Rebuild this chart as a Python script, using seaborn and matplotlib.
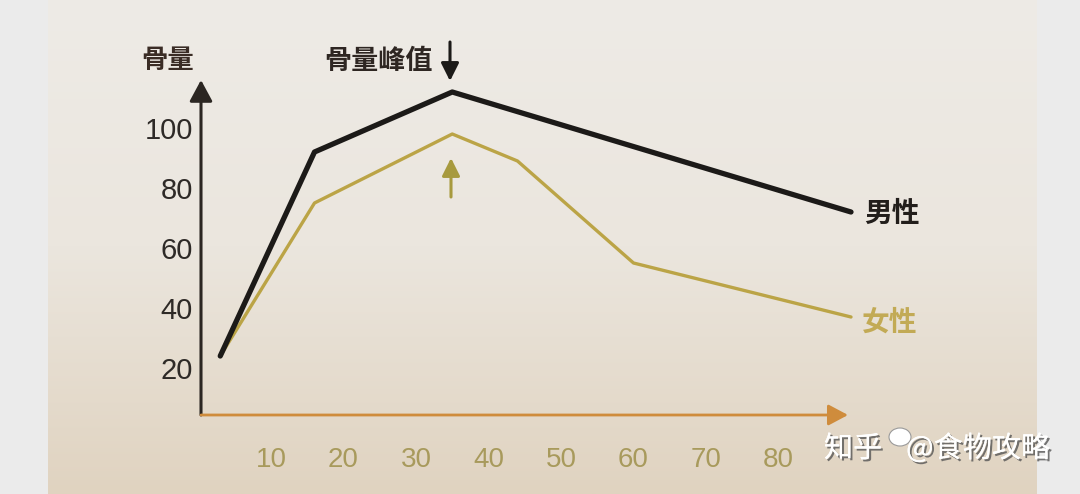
import numpy as np
import pandas as pd
import matplotlib
matplotlib.use("Agg")
import matplotlib.pyplot as plt
import matplotlib.patheffects as pe
from matplotlib.colors import LinearSegmentedColormap
from matplotlib import font_manager
import seaborn as sns

# ---- data ----
male_age = [3, 16, 35, 90]
male_bone = [24, 92, 112, 72]
female_age = [3, 16, 35, 44, 60, 90]
female_bone = [24, 75, 98, 89, 55, 37]
x_ticks = [10, 20, 30, 40, 50, 60, 70, 80]
y_ticks = [20, 40, 60, 80, 100]
y_title = "骨量"
peak_label = "骨量峰值"
male_label = "男性"
female_label = "女性"
watermark_a = "知乎"
watermark_b = "@食物攻略"

sns.set_theme(style="white")
CJK = ["Noto Sans CJK SC", "DejaVu Sans"]
plt.rcParams["font.family"] = CJK
avail = {f.name for f in font_manager.fontManager.ttflist}
NUMFONT = "Liberation Sans Narrow" if "Liberation Sans Narrow" in avail else "Liberation Sans"

W, H = 1080, 494
fig = plt.figure(figsize=(W / 100, H / 100), dpi=100, facecolor="#ebebeb")

def fx(px):
    return px / W

def fy(py):
    return 1 - py / H

# background gradient panel
bg = fig.add_axes([fx(48), 0, fx(1037) - fx(48), 1], zorder=0)
cmap = LinearSegmentedColormap.from_list("bg", ["#eeebe6", "#ebe6de", "#e0d3c0"])
grad = np.linspace(0, 1, 256).reshape(-1, 1)
bg.imshow(grad, aspect="auto", cmap=cmap, extent=[0, 1, 0, 1], origin="upper")
bg.axis("off")

# main axes
x0, x1 = 201, 1000
y_bot, y_top = 415, 60
ax = fig.add_axes([fx(x0), fy(y_bot), fx(x1) - fx(x0), (y_bot - y_top) / H], zorder=1)
ax.patch.set_alpha(0)

df = pd.concat([
    pd.DataFrame({"age": male_age, "bone": male_bone, "sex": male_label}),
    pd.DataFrame({"age": female_age, "bone": female_bone, "sex": female_label}),
])
sns.lineplot(data=df[df.sex == female_label], x="age", y="bone", color="#bba446",
             lw=2.4, ax=ax, legend=False, sort=False)
sns.lineplot(data=df[df.sex == male_label], x="age", y="bone", color="#1c1a18",
             lw=3.8, ax=ax, legend=False, sort=False)

ax.set_xlim((x0 - 198.5) / 7.25, (x1 - 198.5) / 7.25)
ax.set_ylim((428 - y_bot) / 3.0, (428 - y_top) / 3.0)
for s in ax.spines.values():
    s.set_visible(False)
ax.set_xlabel("")
ax.set_ylabel("")
ax.set_xticks(x_ticks)
ax.set_yticks(y_ticks)
ax.set_xticklabels([str(v) for v in x_ticks], fontsize=20, color="#a89a5c", family=NUMFONT)
ax.set_yticklabels([str(v) for v in y_ticks], fontsize=21, color="#2e2a27", family=NUMFONT)
ax.tick_params(axis="x", length=0, pad=23)
ax.tick_params(axis="y", length=0, pad=6)
ax.grid(False)

# axis arrows
ytip = (y_bot - 80) / (y_bot - y_top)
ax.annotate("", xy=(0, ytip), xytext=(0, 0), xycoords="axes fraction",
            arrowprops=dict(arrowstyle="-|>,head_length=0.65,head_width=0.35", color="#2b2622",
                            lw=2.2, mutation_scale=20, shrinkA=0, shrinkB=0), annotation_clip=False)
xtip = (848 - x0) / (x1 - x0)
ax.annotate("", xy=(xtip, 0), xytext=(0, 0), xycoords="axes fraction",
            arrowprops=dict(arrowstyle="-|>,head_length=0.6,head_width=0.32", color="#cf8c3c",
                            lw=2.0, mutation_scale=20, shrinkA=0, shrinkB=0), annotation_clip=False)

# titles and labels
fig.text(fx(168), fy(60), y_title, fontsize=19, fontweight="bold", color="#3a2c25",
         ha="center", va="center", family=CJK)
fig.text(fx(378), fy(61), peak_label, fontsize=19.5, fontweight="bold", color="#2e2622",
         ha="center", va="center", family=CJK)
ax.annotate("", xy=(fx(450), fy(81)), xytext=(fx(450), fy(42)), xycoords="figure fraction",
            arrowprops=dict(arrowstyle="-|>,head_length=0.6,head_width=0.3", color="#1c1a18",
                            lw=2.2, mutation_scale=18, shrinkA=0, shrinkB=0), annotation_clip=False)
ax.annotate("", xy=(fx(451), fy(158)), xytext=(fx(451), fy(197)), xycoords="figure fraction",
            arrowprops=dict(arrowstyle="-|>,head_length=0.6,head_width=0.3", color="#a79a3e",
                            lw=2.2, mutation_scale=18, shrinkA=0, shrinkB=0), annotation_clip=False)
fig.text(fx(892), fy(214), male_label, fontsize=20, fontweight="bold", color="#221e1b",
         ha="center", va="center", family=CJK)
fig.text(fx(890), fy(323), female_label, fontsize=20, fontweight="bold", color="#c2aa55",
         ha="center", va="center", family=CJK)

# watermark
shadow = [pe.withSimplePatchShadow(offset=(1.5, -1.5), shadow_rgbFace="#555555", alpha=0.8),
          pe.Normal()]
fig.text(fx(853), fy(449), watermark_a, fontsize=21, color="white", ha="center", va="center",
         family=CJK, path_effects=shadow, zorder=5)
fig.text(fx(978), fy(449), watermark_b, fontsize=21, color="white", ha="center", va="center",
         family=CJK, path_effects=shadow, zorder=5)
bubble = matplotlib.patches.Ellipse((fx(900), fy(437)), 22 / W, 18 / H, transform=fig.transFigure,
                                    facecolor="white", edgecolor="#9a9a9a", lw=0.8, zorder=3)
fig.patches.append(bubble)

fig.savefig("out.png", dpi=100, facecolor=fig.get_facecolor())
